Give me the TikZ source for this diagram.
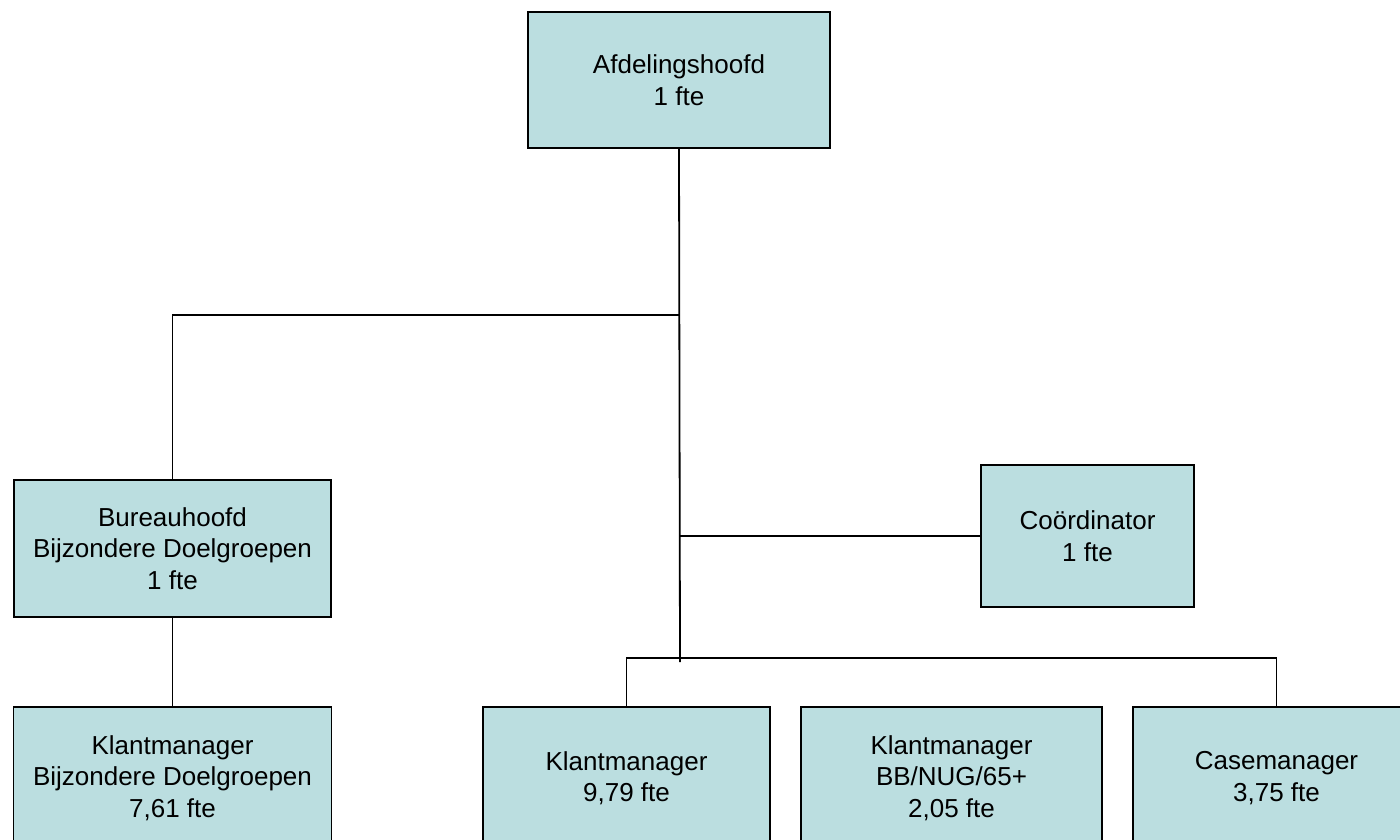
\documentclass[tikz,border=0pt]{standalone}
\usepackage{fontspec}
\setmainfont{Liberation Sans}
\definecolor{boxfill}{RGB}{187,222,224}
\begin{document}
\begin{tikzpicture}[x=1pt,y=-1pt,
  orgbox/.style={draw=black,fill=boxfill,line width=1.8pt,rectangle,inner sep=0pt,
    align=center,font=\fontsize{26}{31.5}\selectfont},
  conn/.style={draw=black,line width=1.8pt}]
\useasboundingbox (0,0) rectangle (1400,840);
\clip (0,0) rectangle (1400,840);
\node[orgbox,minimum width=302pt,minimum height=136pt] (top) at (679,80) {Afdelingshoofd\\1 fte};
\node[orgbox,minimum width=317pt,minimum height=137pt] (bur) at (172.5,548.5) {Bureauhoofd\\Bijzondere Doelgroepen\\1 fte};
\node[orgbox,minimum width=213pt,minimum height=142pt] (coo) at (1087.5,536) {Coördinator\\1 fte};
\node[orgbox,minimum width=318pt,minimum height=142pt] (kmbd) at (172.5,778) {Klantmanager\\Bijzondere Doelgroepen\\7,61 fte};
\node[orgbox,minimum width=287pt,minimum height=142pt] (km) at (626.5,778) {Klantmanager\\9,79 fte};
\node[orgbox,minimum width=301pt,minimum height=142pt] (kmbb) at (951.5,778) {Klantmanager\\BB/NUG/65+\\2,05 fte};
\node[orgbox,minimum width=287pt,minimum height=142pt] (cm) at (1276.5,778) {Casemanager\\3,75 fte};
\coordinate (j1) at (680,315);
\coordinate (jend) at (680,662);
\draw[conn] (top.south) -- (jend);
\draw[conn] (bur.north) |- (j1);
\draw[conn] (coo.west) -- (coo.west -| top.south);
\draw[conn] (bur.south) -- (kmbd.north);
\draw[conn] (km.north) -- ++(0,-48) -| (cm.north);
\end{tikzpicture}
\end{document}
